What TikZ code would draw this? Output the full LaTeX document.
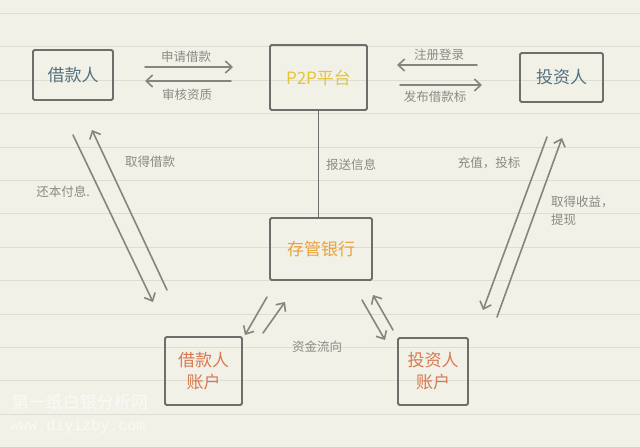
\documentclass[tikz,border=0pt]{standalone}
\usepackage{fontspec}
\setmainfont{Noto Sans CJK SC}
\newfontfamily\wmmono{Liberation Mono}
\usetikzlibrary{arrows.meta}
\definecolor{paper}{HTML}{F2F1E8}
\definecolor{rulec}{HTML}{DEDDD4}
\definecolor{boxline}{HTML}{6E6E6C}
\definecolor{arr}{HTML}{85857F}
\definecolor{lbl}{HTML}{8A8A86}
\definecolor{person}{HTML}{527180}
\definecolor{plat}{HTML}{E4C43A}
\definecolor{bankc}{HTML}{EBA23A}
\definecolor{acct}{HTML}{D8784E}
\tikzset{
  sbox/.style={draw=boxline, line width=1.9pt, rounded corners=1.5pt, inner sep=0pt,
    font=\fontsize{17}{22}\selectfont, align=center},
  flow/.style={draw=arr, line width=1.6pt, line cap=round,
    -{Straight Barb[length=6.5pt,width=12pt,line width=1.6pt]}},
  lab/.style={text=lbl, font=\fontsize{12.5}{18}\selectfont, inner sep=0pt},
}
\begin{document}
\begin{tikzpicture}[x=1pt,y=-1pt]
\fill[paper] (0,0) rectangle (640,447);
\useasboundingbox (0,0) rectangle (640,447);
\foreach \i in {0,...,12}
  \draw[rulec, line width=1.1pt] (0,{13.5+33.4*\i}) -- (640,{13.5+33.4*\i});

% boxes
\node[sbox, text=person, minimum width=80pt, minimum height=50pt] (jkr) at (73,75) {借款人};
\node[sbox, text=plat, minimum width=97pt, minimum height=65pt] (p2p) at (318.5,77.5) {P2P平台};
\node[sbox, text=person, minimum width=83pt, minimum height=49pt] (tzr) at (561.5,77.5) {投资人};
\node[sbox, text=bankc, minimum width=102pt, minimum height=62pt] (bank) at (321,249) {存管银行};
\node[sbox, text=acct, minimum width=77pt, minimum height=68pt] (jka) at (203.5,371) {借款人\\账户};
\node[sbox, text=acct, minimum width=70pt, minimum height=67pt] (tza) at (433,371.5) {投资人\\账户};

% vertical link
\draw[boxline, line width=1.7pt] (p2p.south) -- (p2p.south |- bank.north);

% arrow end points
\coordinate (a1s) at (145,67);  \coordinate (a1e) at (233,67);
\coordinate (a2s) at (231,81);  \coordinate (a2e) at (145,81);
\coordinate (a3s) at (477,65);  \coordinate (a3e) at (397,65);
\coordinate (a4s) at (400,85);  \coordinate (a4e) at (482,85);
\coordinate (b1s) at (73,135);  \coordinate (b1e) at (153,302);
\coordinate (b2s) at (167,290); \coordinate (b2e) at (92,130);
\coordinate (c1s) at (547,137); \coordinate (c1e) at (483,310);
\coordinate (c2s) at (497,317); \coordinate (c2e) at (562,138);
\coordinate (d1s) at (267,297); \coordinate (d1e) at (245,335);
\coordinate (d2s) at (263,333); \coordinate (d2e) at (285,302);
\coordinate (e1s) at (362,300); \coordinate (e1e) at (385,340);
\coordinate (e2s) at (393,330); \coordinate (e2e) at (373,295);

\foreach \p in {a1,a2,a3,a4,b1,b2,c1,c2,d1,d2,e1,e2}
  \draw[flow] (\p s) -- (\p e);

% labels
\node[lab] (l1) at (186,57) {申请借款};
\node[lab] (l2) at (187,95) {审核资质};
\node[lab] (l3) at (439,55) {注册登录};
\node[lab] (l4) at (435,97) {发布借款标};
\node[lab] (l5) at (150,162) {取得借款};
\node[lab] (l6) at (63,192) {还本付息.};
\node[lab, anchor=west] (l7) at (326,165) {报送信息};
\node[lab] (l8) at (489,163) {充值，投标};
\node[lab, anchor=west, align=left] (l9) at (551,211) {取得收益，\\提现};
\node[lab] (l10) at (317,347) {资金流向};

% watermark
\node[text=white, opacity=0.6, font=\fontsize{17}{20}\selectfont, inner sep=0pt] (wm1) at (80,402) {第一纸白银分析网};
\node[text=white, opacity=0.6, font=\wmmono\fontsize{15}{18}\selectfont, inner sep=0pt] (wm2) at (78,427) {www.diyizby.com};
\end{tikzpicture}
\end{document}
